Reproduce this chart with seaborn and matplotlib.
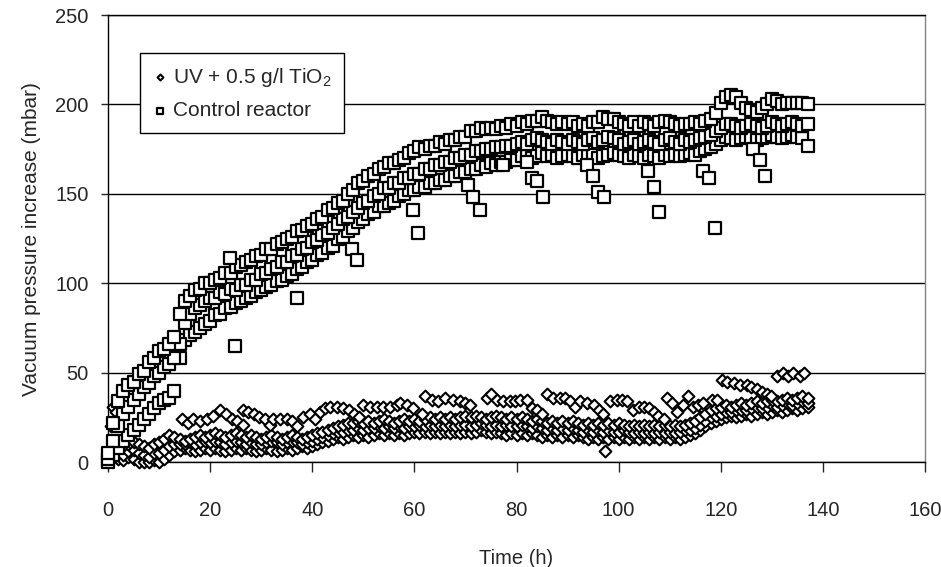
import matplotlib
matplotlib.use("Agg")
import matplotlib.pyplot as plt
import pandas as pd
import seaborn as sns

# sampling times of the hourly readings (h)
HOURS = list(range(0, 138))

# control reactor, read as three strands of the dense band + scattered low points
CTRL_HI = [
    5, 22, 34, 40, 43, 45, 49, 51, 56, 58,
    62, 63, 66, 70, 83, 90, 93, 96, 97, 100,
    100, 102, 103, 106, 106, 109, 110, 112, 113, 115,
    116, 119, 119, 122, 123, 125, 126, 129, 130, 132,
    133, 136, 137, 141, 142, 145, 146, 150, 152, 156,
    157, 160, 161, 164, 165, 167, 167, 169, 170, 173,
    174, 176, 175, 177, 177, 179, 178, 180, 180, 182,
    182, 185, 185, 187, 186, 187, 186, 188, 187, 189,
    188, 190, 189, 191, 191, 193, 191, 190, 189, 190,
    189, 190, 188, 189, 188, 190, 190, 193, 192, 192,
    190, 189, 188, 190, 188, 190, 189, 188, 190, 191,
    190, 189, 188, 189, 189, 190, 189, 191, 192, 195,
    201, 204, 205, 204, 201, 198, 197, 196, 198, 200,
    203, 202, 200, 201, 201, 201, 201, 200,
]
CTRL_MID = [
    2, 12, 20, 27, 31, 35, 38, 42, 44, 48,
    50, 53, 55, 58, 66, 78, 83, 86, 88, 90,
    92, 92, 95, 94, 97, 96, 99, 99, 102, 102,
    105, 106, 108, 109, 112, 112, 115, 116, 119, 120,
    123, 124, 127, 128, 131, 133, 136, 137, 140, 142,
    145, 146, 149, 150, 153, 153, 156, 156, 159, 159,
    161, 161, 164, 164, 166, 166, 168, 168, 170, 170,
    172, 172, 174, 174, 175, 175, 176, 176, 177, 177,
    178, 179, 178, 180, 181, 180, 179, 178, 180, 179,
    178, 180, 179, 178, 180, 181, 179, 180, 182, 181,
    180, 178, 179, 180, 178, 179, 180, 179, 178, 180,
    181, 179, 178, 180, 179, 180, 181, 182, 183, 185,
    187, 189, 189, 188, 187, 188, 189, 188, 187, 188,
    190, 189, 188, 189, 190, 189, 188, 189,
]
CTRL_LO = [
    0, 4, 8, 12, 15, 18, 21, 24, 27, 30,
    33, 35, 36, 40, 58, 68, 71, 73, 75, 77,
    79, 82, 83, 86, 87, 89, 90, 92, 93, 95,
    96, 98, 99, 101, 102, 104, 105, 108, 109, 112,
    113, 116, 117, 120, 121, 125, 126, 129, 131, 134,
    136, 139, 140, 143, 143, 145, 146, 149, 150, 152,
    152, 154, 154, 156, 156, 158, 158, 160, 160, 162,
    162, 164, 164, 166, 165, 167, 166, 168, 168, 169,
    169, 171, 171, 170, 171, 173, 171, 172, 170, 171,
    172, 171, 170, 172, 171, 172, 170, 171, 172, 173,
    172, 171, 170, 172, 171, 170, 172, 171, 170, 172,
    171, 172, 171, 172, 173, 172, 174, 175, 176, 178,
    180, 182, 181, 180, 181, 182, 181, 180, 181, 182,
    183, 182, 181, 182, 183, 182, 181, 177,
]
CTRL_OUT_H = [23.9, 24.9, 37.0, 47.7, 48.8, 59.8, 60.8, 70.5, 71.5, 72.8,
              77.4, 82.0, 83.0, 84.1, 85.1, 93.9, 95.0, 96.0, 97.1, 105.8,
              106.9, 108.0, 116.6, 117.7, 118.9, 126.4, 127.7, 128.7]
CTRL_OUT_V = [114, 65, 92, 119, 113, 141, 128, 155, 148, 141,
              166, 168, 159, 157, 148, 166, 160, 151, 148, 163,
              154, 140, 163, 159, 131, 175, 169, 160]

# UV + TiO2 reactor: main band (three strands) + upper sawtooth strand
UV_HI = [
    5, 12, 10, 9, 10, 11, 10, 9, 8, 10,
    11, 13, 15, 14, 13, 12, 13, 14, 15, 14,
    15, 16, 15, 14, 15, 16, 15, 14, 15, 14,
    13, 14, 15, 14, 13, 14, 15, 14, 13, 14,
    15, 16, 17, 18, 19, 20, 21, 22, 22, 23,
    22, 23, 22, 23, 24, 23, 22, 23, 24, 23,
    24, 23, 24, 25, 24, 25, 24, 25, 24, 25,
    26, 25, 26, 25, 24, 25, 26, 25, 24, 25,
    24, 25, 24, 23, 24, 23, 22, 23, 22, 23,
    22, 23, 22, 21, 22, 21, 22, 21, 22, 21,
    22, 21, 20, 21, 20, 21, 20, 21, 20, 21,
    20, 21, 20, 21, 22, 23, 25, 27, 29, 30,
    31, 32, 31, 32, 33, 32, 33, 34, 33, 34,
    35, 34, 35, 36, 35, 36, 37, 36,
]
UV_MID = [
    2, 6, 5, 4, 6, 7, 5, 4, 3, 5,
    5, 7, 9, 10, 10, 10, 11, 10, 11, 12,
    11, 12, 11, 10, 11, 12, 11, 10, 11, 10,
    10, 11, 12, 11, 10, 11, 12, 11, 10, 11,
    12, 13, 14, 15, 16, 17, 17, 18, 18, 19,
    18, 19, 19, 20, 19, 20, 19, 20, 19, 20,
    20, 21, 20, 21, 20, 21, 20, 21, 20, 21,
    21, 20, 21, 22, 21, 20, 21, 20, 21, 20,
    20, 21, 20, 19, 20, 19, 18, 19, 18, 19,
    18, 19, 18, 17, 18, 17, 18, 17, 18, 17,
    17, 18, 17, 16, 17, 16, 17, 16, 17, 16,
    17, 16, 17, 18, 18, 19, 21, 23, 25, 26,
    27, 28, 28, 29, 29, 29, 30, 31, 30, 31,
    32, 31, 32, 33, 32, 33, 34, 33,
]
UV_LO = [
    0, 3, 2, 1, 3, 2, 0, 0, 0, 1,
    0, 2, 4, 6, 7, 8, 7, 6, 7, 8,
    7, 8, 7, 6, 7, 8, 7, 8, 7, 6,
    7, 8, 7, 6, 7, 8, 7, 8, 9, 8,
    9, 10, 11, 12, 13, 14, 13, 14, 15, 14,
    15, 14, 15, 16, 15, 16, 15, 16, 15, 16,
    17, 16, 17, 16, 17, 16, 17, 16, 17, 16,
    17, 16, 17, 18, 17, 16, 17, 16, 15, 16,
    15, 16, 15, 16, 15, 14, 15, 14, 15, 14,
    15, 14, 15, 14, 13, 14, 13, 14, 13, 14,
    13, 14, 13, 14, 13, 14, 13, 14, 13, 14,
    13, 14, 13, 14, 15, 16, 18, 20, 22, 23,
    24, 25, 26, 25, 26, 27, 26, 27, 28, 27,
    28, 29, 28, 29, 30, 29, 30, 31,
]
UV_UP_H = [
    0.5, 1.0, 1.5, 2.0,
    14.4, 15.7, 16.7, 18.0, 19.3, 20.6, 21.9, 23.1, 24.2, 25.2, 26.4,
    26.5, 27.5, 28.5, 29.6, 30.7, 31.7,
    32.4, 33.7, 35.0, 36.0, 37.0,
    38.2, 39.5, 40.5, 41.5, 42.5, 43.5, 44.8, 46.1, 47.1, 48.1, 49.1,
    50.0, 51.3, 52.6, 53.9, 55.2, 56.5, 57.2, 58.5, 59.8, 61.4,
    62.1, 63.4, 64.7, 66.0, 67.6, 68.9, 69.9, 70.9,
    74.2, 75.1, 76.1, 77.4, 78.7, 79.7, 80.7, 82.0, 83.0, 84.0, 85.0,
    85.9, 87.2, 88.5, 89.5, 90.5, 91.5, 92.5, 93.8, 95.1, 96.1, 97.0,
    98.3, 99.6, 100.6, 101.6, 102.9, 103.9, 104.9, 105.9, 106.9, 107.8, 108.8,
    109.4, 110.4, 111.4, 112.7, 113.6, 114.6, 115.6, 116.6, 118.2, 119.2,
    120.2, 121.2, 122.5, 123.8, 125.1, 126.0, 127.0, 128.0, 129.0, 129.9,
    131.0, 132.2, 133.2, 134.2, 135.5, 136.4,
    97.3,
]
UV_UP_V = [
    20, 31, 28, 24,
    24, 22, 24, 23, 24, 26, 29, 27, 24, 23, 21,
    29, 28, 27, 25, 24, 21,
    24, 24, 24, 23, 20,
    25, 27, 24, 28, 30, 31, 31, 30, 29, 27, 25,
    32, 31, 31, 31, 31, 32, 33, 32, 30, 27,
    37, 35, 34, 36, 35, 34, 33, 32,
    36, 38, 35, 34, 34, 34, 35, 35, 30, 29, 27,
    38, 36, 36, 36, 34, 31, 34, 33, 32, 29, 27,
    34, 35, 35, 34, 29, 31, 31, 30, 28, 26, 24,
    36, 33, 28, 32, 37, 31, 32, 33, 35, 35,
    46, 45, 44, 43, 43, 42, 41, 39, 38, 37,
    48, 50, 48, 50, 48, 50,
    6,
]

uv = pd.DataFrame({
    "time": HOURS * 3 + UV_UP_H,
    "value": UV_LO + UV_MID + UV_HI + UV_UP_V,
})
ctrl = pd.DataFrame({
    "time": HOURS * 3 + CTRL_OUT_H,
    "value": CTRL_LO + CTRL_MID + CTRL_HI + CTRL_OUT_V,
})

sns.set_style("white")
plt.rcParams["font.family"] = ["Liberation Sans", "DejaVu Sans"]
plt.rcParams["mathtext.default"] = "regular"

fig = plt.figure(figsize=(9.41, 5.67), dpi=100)
ax = fig.add_axes([0.1148, 0.185, 0.8682, 0.7885])

sns.scatterplot(data=uv, x="time", y="value", ax=ax, marker="D", s=36,
                facecolor="white", edgecolor="black", linewidth=1.5,
                label="UV + 0.5 g/l TiO$_2$", clip_on=False, zorder=3)
sns.scatterplot(data=ctrl, x="time", y="value", ax=ax, marker="s", s=64,
                facecolor="white", edgecolor="black", linewidth=1.6,
                label="Control reactor", clip_on=False, zorder=4)

ax.set_xlim(0, 160)
ax.set_ylim(0, 250)
ax.set_xticks(range(0, 161, 20))
ax.set_yticks(range(0, 251, 50))
ax.yaxis.grid(True, color="black", linewidth=1)
ax.set_axisbelow(True)

for side in ["left", "bottom", "top"]:
    ax.spines[side].set_color("black")
    ax.spines[side].set_linewidth(1)
ax.spines["right"].set_color("#808080")
ax.spines["right"].set_linewidth(1)

ax.tick_params(axis="x", direction="out", length=7, width=1, pad=21,
               labelsize=14.5, bottom=True)
ax.tick_params(axis="y", direction="out", length=5, width=1, pad=9,
               labelsize=14.5, left=True)

ax.set_xlabel("Time (h)", fontsize=14.5, labelpad=21)
ax.set_ylabel("Vacuum pressure increase (mbar)", fontsize=15, labelpad=10)

leg = ax.legend(loc="upper left", bbox_to_anchor=(0.039, 0.915),
                borderaxespad=0, fontsize=15, markerscale=0.5,
                frameon=True, fancybox=False, handletextpad=0.3,
                handlelength=0.7, borderpad=0.6, labelspacing=0.6)
leg.get_frame().set_edgecolor("black")
leg.get_frame().set_linewidth(1)
leg.get_frame().set_alpha(1)

fig.savefig("out.png", dpi=100)
plt.close(fig)
